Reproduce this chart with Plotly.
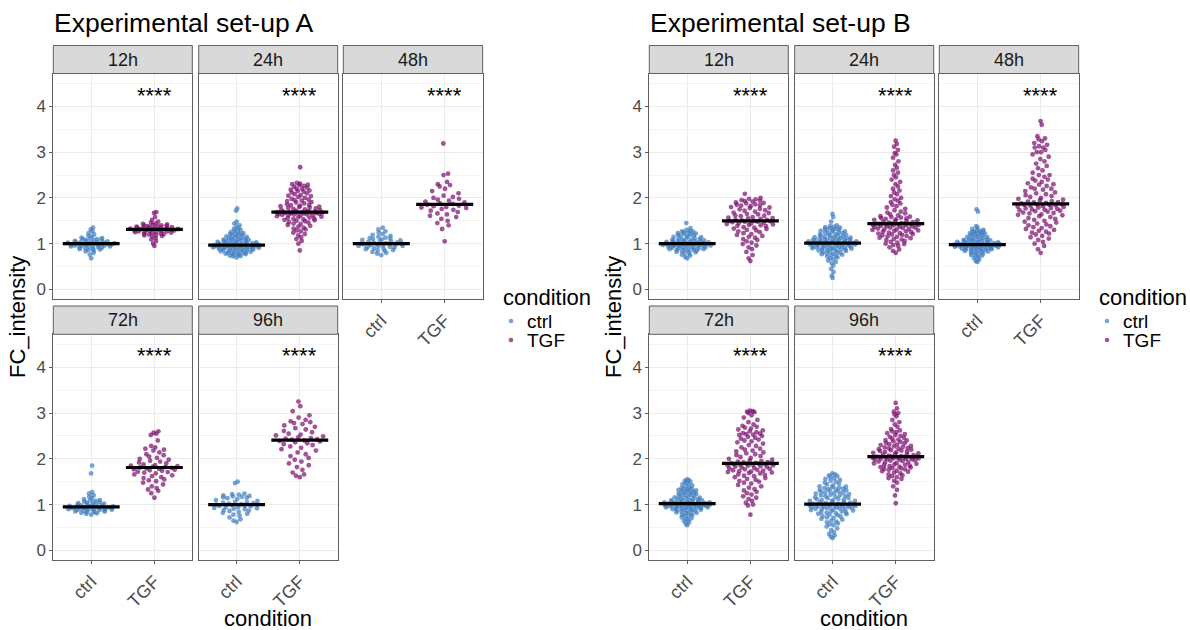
import numpy as np
import plotly.graph_objects as go

# ---------------------------------------------------------------------------
# FC_intensity per cell, by time point and condition
# ---------------------------------------------------------------------------
TIMEPOINTS = ["12h", "24h", "48h", "72h", "96h"]
CONDITIONS = ["ctrl", "TGF"]

# Experimental set-up A
A_12h_ctrl = [0.68, 0.76, 0.80, 0.83, 0.85, 0.86, 0.87, 0.88, 0.89, 0.90, 0.91, 0.92, 0.92, 0.93,
              0.94, 0.94, 0.95, 0.95, 0.96, 0.96, 0.97, 0.97, 0.98, 0.98, 0.99, 0.99, 0.99, 1.00,
              1.00, 1.01, 1.01, 1.02, 1.02, 1.03, 1.03, 1.04, 1.04, 1.05, 1.05, 1.06, 1.07, 1.08,
              1.09, 1.10, 1.10, 1.11, 1.12, 1.13, 1.15, 1.17, 1.20, 1.23, 1.27, 1.31, 1.35]
A_12h_TGF = [0.95, 1.00, 1.05, 1.09, 1.12, 1.15, 1.17, 1.18, 1.19, 1.20, 1.21, 1.22, 1.22, 1.23,
             1.24, 1.25, 1.25, 1.26, 1.27, 1.27, 1.28, 1.28, 1.29, 1.29, 1.30, 1.30, 1.30, 1.31,
             1.31, 1.32, 1.32, 1.33, 1.33, 1.34, 1.34, 1.35, 1.35, 1.36, 1.36, 1.37, 1.38, 1.38,
             1.39, 1.40, 1.40, 1.41, 1.42, 1.43, 1.44, 1.46, 1.48, 1.52, 1.58, 1.67, 1.69]
A_24h_ctrl = [0.70, 0.72, 0.73, 0.74, 0.75, 0.76, 0.77, 0.78, 0.78, 0.79, 0.80, 0.80, 0.81, 0.82,
              0.82, 0.83, 0.84, 0.84, 0.85, 0.86, 0.86, 0.87, 0.87, 0.88, 0.88, 0.89, 0.89, 0.90,
              0.90, 0.91, 0.91, 0.92, 0.92, 0.92, 0.93, 0.93, 0.93, 0.94, 0.94, 0.94, 0.95, 0.95,
              0.95, 0.96, 0.96, 0.96, 0.96, 0.97, 0.97, 0.97, 0.97, 0.98, 0.98, 0.99, 0.99, 1.00,
              1.00, 1.01, 1.01, 1.02, 1.02, 1.03, 1.03, 1.04, 1.05, 1.05, 1.06, 1.06, 1.07, 1.08,
              1.08, 1.09, 1.10, 1.10, 1.11, 1.12, 1.13, 1.14, 1.15, 1.16, 1.17, 1.18, 1.19, 1.20,
              1.21, 1.22, 1.23, 1.25, 1.26, 1.28, 1.30, 1.32, 1.34, 1.37, 1.40, 1.44, 1.48, 1.72,
              1.77]
A_24h_TGF = [0.85, 1.00, 1.06, 1.10, 1.14, 1.18, 1.21, 1.24, 1.27, 1.29, 1.31, 1.33, 1.35, 1.37,
             1.39, 1.41, 1.43, 1.44, 1.46, 1.47, 1.49, 1.50, 1.51, 1.52, 1.53, 1.54, 1.55, 1.56,
             1.57, 1.58, 1.59, 1.60, 1.61, 1.62, 1.62, 1.63, 1.64, 1.64, 1.65, 1.65, 1.66, 1.66,
             1.67, 1.67, 1.68, 1.68, 1.68, 1.69, 1.69, 1.69, 1.70, 1.70, 1.71, 1.72, 1.73, 1.74,
             1.75, 1.76, 1.77, 1.78, 1.79, 1.80, 1.81, 1.82, 1.83, 1.84, 1.85, 1.86, 1.88, 1.90,
             1.91, 1.93, 1.94, 1.95, 1.96, 1.98, 2.00, 2.02, 2.04, 2.05, 2.06, 2.08, 2.10, 2.12,
             2.14, 2.15, 2.16, 2.18, 2.20, 2.20, 2.22, 2.24, 2.26, 2.28, 2.29, 2.30, 2.31, 2.33,
             2.67]
A_48h_ctrl = [0.75, 0.78, 0.80, 0.82, 0.84, 0.85, 0.86, 0.88, 0.89, 0.90, 0.91, 0.92, 0.93, 0.94,
              0.95, 0.95, 0.96, 0.97, 0.97, 0.98, 0.99, 0.99, 1.00, 1.00, 1.01, 1.02, 1.03, 1.04,
              1.05, 1.06, 1.07, 1.08, 1.09, 1.10, 1.11, 1.12, 1.13, 1.15, 1.17, 1.19, 1.21, 1.24,
              1.27, 1.31, 1.35]
A_48h_TGF = [1.05, 1.32, 1.40, 1.45, 1.50, 1.54, 1.58, 1.61, 1.64, 1.66, 1.69, 1.72, 1.74, 1.76,
             1.78, 1.79, 1.80, 1.82, 1.83, 1.85, 1.87, 1.88, 1.90, 1.92, 1.94, 1.96, 1.98, 2.00,
             2.02, 2.05, 2.10, 2.15, 2.20, 2.25, 2.28, 2.30, 2.35, 2.50, 2.53, 3.19]
A_72h_ctrl = [0.78, 0.80, 0.81, 0.82, 0.83, 0.84, 0.85, 0.85, 0.86, 0.86, 0.87, 0.88, 0.88, 0.89,
              0.89, 0.90, 0.90, 0.91, 0.91, 0.92, 0.92, 0.93, 0.93, 0.93, 0.94, 0.94, 0.94, 0.95,
              0.95, 0.96, 0.96, 0.97, 0.98, 0.98, 0.99, 1.00, 1.00, 1.01, 1.02, 1.03, 1.04, 1.05,
              1.06, 1.07, 1.08, 1.09, 1.10, 1.12, 1.14, 1.17, 1.20, 1.24, 1.27, 1.68, 1.85]
A_72h_TGF = [1.15, 1.25, 1.30, 1.33, 1.36, 1.40, 1.44, 1.48, 1.51, 1.53, 1.55, 1.58, 1.60, 1.62,
             1.64, 1.66, 1.68, 1.70, 1.71, 1.72, 1.74, 1.75, 1.76, 1.77, 1.78, 1.79, 1.80, 1.81,
             1.82, 1.83, 1.84, 1.85, 1.86, 1.88, 1.90, 1.92, 1.94, 1.96, 1.98, 2.00, 2.02, 2.05,
             2.08, 2.10, 2.14, 2.18, 2.20, 2.22, 2.25, 2.28, 2.40, 2.52, 2.55, 2.57, 2.60]
A_96h_ctrl = [0.62, 0.65, 0.68, 0.72, 0.76, 0.78, 0.80, 0.82, 0.84, 0.86, 0.87, 0.88, 0.90, 0.91,
              0.92, 0.93, 0.94, 0.95, 0.96, 0.97, 0.98, 0.99, 1.00, 1.00, 1.01, 1.02, 1.03, 1.04,
              1.05, 1.06, 1.08, 1.10, 1.12, 1.14, 1.15, 1.16, 1.17, 1.18, 1.19, 1.20, 1.22, 1.23,
              1.24, 1.47, 1.50]
A_96h_TGF = [1.60, 1.63, 1.66, 1.70, 1.76, 1.82, 1.86, 1.90, 1.94, 1.98, 2.02, 2.06, 2.10, 2.14,
             2.18, 2.21, 2.24, 2.27, 2.30, 2.32, 2.34, 2.36, 2.38, 2.39, 2.40, 2.42, 2.43, 2.44,
             2.45, 2.47, 2.49, 2.51, 2.53, 2.55, 2.58, 2.61, 2.64, 2.67, 2.70, 2.73, 2.76, 2.78,
             2.80, 2.82, 2.85, 2.90, 2.95, 3.04, 3.15, 3.25]

# Experimental set-up B
B_12h_ctrl = [0.68, 0.71, 0.74, 0.76, 0.78, 0.80, 0.81, 0.82, 0.83, 0.84, 0.85, 0.86, 0.86, 0.87,
              0.88, 0.88, 0.89, 0.90, 0.90, 0.91, 0.91, 0.92, 0.92, 0.93, 0.93, 0.94, 0.94, 0.95,
              0.95, 0.96, 0.96, 0.97, 0.97, 0.97, 0.98, 0.98, 0.99, 0.99, 0.99, 1.00, 1.00, 1.01,
              1.01, 1.02, 1.02, 1.03, 1.03, 1.04, 1.04, 1.05, 1.05, 1.06, 1.06, 1.07, 1.07, 1.08,
              1.09, 1.09, 1.10, 1.11, 1.12, 1.13, 1.14, 1.15, 1.16, 1.17, 1.18, 1.19, 1.20, 1.21,
              1.22, 1.23, 1.24, 1.25, 1.26, 1.27, 1.28, 1.30, 1.34, 1.45]
B_12h_TGF = [0.62, 0.68, 0.75, 0.82, 0.88, 0.92, 0.96, 0.99, 1.02, 1.05, 1.08, 1.10, 1.13, 1.15,
             1.17, 1.19, 1.21, 1.23, 1.25, 1.27, 1.29, 1.30, 1.32, 1.33, 1.35, 1.36, 1.38, 1.39,
             1.40, 1.41, 1.42, 1.43, 1.44, 1.45, 1.46, 1.47, 1.48, 1.48, 1.49, 1.50, 1.50, 1.51,
             1.52, 1.53, 1.54, 1.55, 1.56, 1.57, 1.58, 1.60, 1.61, 1.62, 1.64, 1.65, 1.67, 1.68,
             1.70, 1.72, 1.73, 1.75, 1.76, 1.78, 1.79, 1.80, 1.82, 1.83, 1.84, 1.85, 1.86, 1.88,
             1.89, 1.90, 1.92, 1.93, 1.94, 1.95, 1.97, 1.98, 2.00, 2.09]
B_24h_ctrl = [0.25, 0.30, 0.38, 0.45, 0.52, 0.57, 0.60, 0.63, 0.66, 0.68, 0.70, 0.72, 0.73, 0.75,
              0.76, 0.77, 0.78, 0.79, 0.80, 0.81, 0.82, 0.83, 0.84, 0.85, 0.85, 0.86, 0.87, 0.87,
              0.88, 0.89, 0.89, 0.90, 0.90, 0.91, 0.92, 0.92, 0.93, 0.93, 0.94, 0.94, 0.95, 0.95,
              0.96, 0.96, 0.97, 0.97, 0.98, 0.98, 0.99, 0.99, 1.00, 1.00, 1.00, 1.01, 1.01, 1.01,
              1.02, 1.02, 1.03, 1.03, 1.04, 1.04, 1.05, 1.05, 1.06, 1.06, 1.07, 1.07, 1.08, 1.08,
              1.09, 1.09, 1.10, 1.10, 1.11, 1.11, 1.12, 1.13, 1.13, 1.14, 1.15, 1.15, 1.16, 1.17,
              1.18, 1.18, 1.19, 1.20, 1.21, 1.22, 1.23, 1.24, 1.25, 1.26, 1.27, 1.28, 1.29, 1.30,
              1.31, 1.32, 1.33, 1.34, 1.35, 1.36, 1.37, 1.38, 1.40, 1.48, 1.58, 1.65]
B_24h_TGF = [0.80, 0.84, 0.87, 0.92, 0.95, 0.97, 0.99, 1.00, 1.02, 1.04, 1.06, 1.08, 1.09, 1.10,
             1.12, 1.13, 1.15, 1.16, 1.17, 1.18, 1.19, 1.20, 1.21, 1.22, 1.23, 1.24, 1.25, 1.26,
             1.27, 1.28, 1.29, 1.30, 1.31, 1.31, 1.32, 1.33, 1.34, 1.35, 1.35, 1.36, 1.37, 1.38,
             1.38, 1.39, 1.40, 1.40, 1.41, 1.41, 1.42, 1.42, 1.43, 1.43, 1.44, 1.44, 1.44, 1.44,
             1.45, 1.46, 1.47, 1.48, 1.49, 1.50, 1.51, 1.52, 1.53, 1.54, 1.55, 1.56, 1.57, 1.58,
             1.59, 1.60, 1.62, 1.64, 1.66, 1.68, 1.70, 1.73, 1.76, 1.79, 1.82, 1.85, 1.88, 1.91,
             1.94, 1.97, 2.00, 2.04, 2.08, 2.12, 2.16, 2.20, 2.25, 2.30, 2.35, 2.40, 2.45, 2.50,
             2.55, 2.60, 2.66, 2.72, 2.80, 2.88, 2.95, 2.98, 3.05, 3.12, 3.18, 3.25]
B_48h_ctrl = [0.60, 0.62, 0.65, 0.68, 0.70, 0.72, 0.74, 0.75, 0.76, 0.78, 0.79, 0.80, 0.81, 0.82,
              0.83, 0.84, 0.85, 0.85, 0.86, 0.87, 0.87, 0.88, 0.88, 0.89, 0.89, 0.90, 0.90, 0.91,
              0.91, 0.92, 0.92, 0.93, 0.93, 0.94, 0.94, 0.94, 0.95, 0.95, 0.95, 0.96, 0.96, 0.96,
              0.97, 0.97, 0.97, 0.97, 0.98, 0.98, 0.98, 0.98, 0.98, 0.99, 0.99, 0.99, 1.00, 1.00,
              1.00, 1.01, 1.01, 1.02, 1.02, 1.03, 1.03, 1.04, 1.04, 1.05, 1.05, 1.06, 1.06, 1.07,
              1.07, 1.08, 1.09, 1.09, 1.10, 1.11, 1.12, 1.13, 1.14, 1.15, 1.16, 1.17, 1.18, 1.19,
              1.20, 1.21, 1.22, 1.23, 1.24, 1.25, 1.26, 1.27, 1.28, 1.29, 1.30, 1.32, 1.35, 1.38,
              1.70, 1.75]
B_48h_TGF = [0.80, 0.88, 0.95, 1.00, 1.04, 1.08, 1.11, 1.14, 1.17, 1.20, 1.22, 1.24, 1.26, 1.28,
             1.30, 1.32, 1.34, 1.36, 1.38, 1.40, 1.42, 1.44, 1.46, 1.48, 1.50, 1.52, 1.54, 1.56,
             1.58, 1.60, 1.62, 1.63, 1.64, 1.66, 1.67, 1.68, 1.70, 1.71, 1.72, 1.73, 1.74, 1.75,
             1.76, 1.77, 1.78, 1.79, 1.80, 1.81, 1.82, 1.83, 1.84, 1.85, 1.85, 1.86, 1.86, 1.88,
             1.89, 1.90, 1.91, 1.92, 1.93, 1.95, 1.96, 1.98, 2.00, 2.02, 2.04, 2.06, 2.08, 2.10,
             2.12, 2.15, 2.18, 2.20, 2.20, 2.23, 2.26, 2.29, 2.30, 2.32, 2.35, 2.38, 2.40, 2.42,
             2.46, 2.50, 2.50, 2.55, 2.60, 2.65, 2.70, 2.75, 2.80, 2.85, 2.90, 2.95, 3.00, 3.00,
             3.05, 3.10, 3.10, 3.13, 3.16, 3.20, 3.24, 3.28, 3.30, 3.35, 3.60, 3.68]
B_72h_ctrl = [0.55, 0.58, 0.61, 0.64, 0.66, 0.68, 0.70, 0.72, 0.74, 0.76, 0.77, 0.78, 0.80, 0.81,
              0.82, 0.83, 0.84, 0.85, 0.86, 0.87, 0.88, 0.88, 0.89, 0.90, 0.90, 0.91, 0.92, 0.92,
              0.93, 0.93, 0.94, 0.94, 0.95, 0.95, 0.96, 0.96, 0.97, 0.97, 0.97, 0.98, 0.98, 0.98,
              0.99, 0.99, 0.99, 1.00, 1.00, 1.00, 1.00, 1.01, 1.01, 1.01, 1.01, 1.02, 1.02, 1.02,
              1.02, 1.03, 1.03, 1.03, 1.04, 1.04, 1.05, 1.05, 1.06, 1.06, 1.07, 1.07, 1.08, 1.08,
              1.09, 1.10, 1.10, 1.11, 1.12, 1.13, 1.13, 1.14, 1.15, 1.16, 1.17, 1.18, 1.19, 1.20,
              1.21, 1.22, 1.23, 1.24, 1.25, 1.26, 1.27, 1.28, 1.29, 1.30, 1.31, 1.32, 1.33, 1.34,
              1.35, 1.36, 1.38, 1.40, 1.42, 1.44, 1.46, 1.48, 1.50, 1.52, 1.54, 1.55]
B_72h_TGF = [0.78, 0.98, 1.00, 1.04, 1.08, 1.12, 1.15, 1.18, 1.22, 1.25, 1.28, 1.31, 1.34, 1.37,
             1.40, 1.43, 1.46, 1.48, 1.50, 1.52, 1.54, 1.56, 1.58, 1.60, 1.62, 1.63, 1.65, 1.66,
             1.68, 1.69, 1.70, 1.71, 1.72, 1.73, 1.74, 1.75, 1.76, 1.77, 1.78, 1.79, 1.80, 1.81,
             1.82, 1.83, 1.84, 1.85, 1.86, 1.86, 1.87, 1.87, 1.88, 1.88, 1.89, 1.89, 1.90, 1.90,
             1.91, 1.92, 1.93, 1.94, 1.95, 1.96, 1.98, 2.00, 2.02, 2.04, 2.06, 2.08, 2.10, 2.12,
             2.14, 2.16, 2.18, 2.20, 2.22, 2.25, 2.28, 2.30, 2.33, 2.36, 2.38, 2.40, 2.42, 2.44,
             2.46, 2.48, 2.50, 2.52, 2.53, 2.54, 2.55, 2.56, 2.58, 2.60, 2.62, 2.64, 2.66, 2.68,
             2.70, 2.72, 2.75, 2.80, 2.85, 2.90, 2.95, 3.00, 3.02, 3.03, 3.04, 3.05]
B_96h_ctrl = [0.27, 0.30, 0.33, 0.36, 0.40, 0.44, 0.48, 0.52, 0.55, 0.57, 0.59, 0.61, 0.63, 0.65,
              0.67, 0.69, 0.71, 0.72, 0.74, 0.75, 0.77, 0.78, 0.79, 0.80, 0.81, 0.82, 0.83, 0.84,
              0.85, 0.86, 0.87, 0.88, 0.89, 0.90, 0.90, 0.91, 0.92, 0.92, 0.93, 0.94, 0.94, 0.95,
              0.95, 0.96, 0.96, 0.97, 0.97, 0.98, 0.98, 0.99, 0.99, 1.00, 1.00, 1.00, 1.01, 1.01,
              1.02, 1.03, 1.04, 1.05, 1.06, 1.07, 1.08, 1.08, 1.09, 1.10, 1.11, 1.12, 1.13, 1.14,
              1.15, 1.16, 1.17, 1.18, 1.19, 1.20, 1.21, 1.22, 1.23, 1.24, 1.25, 1.26, 1.27, 1.28,
              1.29, 1.30, 1.31, 1.32, 1.33, 1.34, 1.35, 1.36, 1.37, 1.38, 1.39, 1.40, 1.42, 1.44,
              1.46, 1.48, 1.50, 1.52, 1.54, 1.56, 1.58, 1.60, 1.62, 1.64, 1.66, 1.68]
B_96h_TGF = [1.03, 1.20, 1.32, 1.40, 1.48, 1.52, 1.56, 1.58, 1.60, 1.62, 1.64, 1.66, 1.68, 1.70,
             1.72, 1.73, 1.74, 1.76, 1.77, 1.78, 1.79, 1.80, 1.81, 1.82, 1.83, 1.84, 1.85, 1.86,
             1.87, 1.88, 1.89, 1.90, 1.91, 1.92, 1.93, 1.94, 1.95, 1.96, 1.97, 1.98, 1.98, 1.99,
             1.99, 2.00, 2.00, 2.01, 2.01, 2.02, 2.02, 2.03, 2.03, 2.04, 2.04, 2.05, 2.05, 2.05,
             2.06, 2.07, 2.08, 2.09, 2.10, 2.11, 2.12, 2.13, 2.14, 2.15, 2.16, 2.17, 2.18, 2.19,
             2.20, 2.21, 2.22, 2.23, 2.24, 2.25, 2.26, 2.27, 2.28, 2.30, 2.31, 2.32, 2.34, 2.35,
             2.37, 2.38, 2.40, 2.41, 2.42, 2.44, 2.46, 2.48, 2.50, 2.52, 2.54, 2.56, 2.58, 2.60,
             2.62, 2.65, 2.70, 2.75, 2.80, 2.85, 2.93, 2.97, 3.00, 3.03, 3.10, 3.22]

SIGNIF_LABEL = "****"
SETUP_TITLES = ["Experimental set-up A", "Experimental set-up B"]
SETUP_DATA = [
    [(A_12h_ctrl, A_12h_TGF), (A_24h_ctrl, A_24h_TGF), (A_48h_ctrl, A_48h_TGF),
     (A_72h_ctrl, A_72h_TGF), (A_96h_ctrl, A_96h_TGF)],
    [(B_12h_ctrl, B_12h_TGF), (B_24h_ctrl, B_24h_TGF), (B_48h_ctrl, B_48h_TGF),
     (B_72h_ctrl, B_72h_TGF), (B_96h_ctrl, B_96h_TGF)],
]

# ---------------------------------------------------------------------------
# Styling
# ---------------------------------------------------------------------------
W, H = 1190, 630
FONT = "Liberation Sans, Arial, sans-serif"
COLORS = {"ctrl": "#3F7EC2", "TGF": "#7A0B6E"}
POINT_ALPHA = 0.7
BORDER = "#5F5F5F"
GRID_MAJOR = "#EBEBEB"
GRID_MINOR = "#F5F5F5"
STRIP_FILL = "#D9D9D9"
Y_RANGE = [-0.21, 4.72]
X_RANGE = [0.4, 2.6]

# pixel layout of the facet grid (left edge offset per set-up)
COL_SPANS = [(53.3, 192.3), (198.7, 337.7), (343.3, 482.7)]
SETUP_SHIFT = [0.0, 596.0]
ROW_PLOT = [(73.5, 299.0), (334.3, 560.0)]
ROW_STRIP = [(45.5, 73.5), (306.0, 334.3)]
PANEL_CELLS = [(0, 0), (0, 1), (0, 2), (1, 0), (1, 1)]
# legend key block (pixels, before set-up shift)
LEGEND_LEFT, LEGEND_TITLE_Y, LEGEND_KEY_X, LEGEND_TEXT_X = 501, 297, 511, 525
LEGEND_ROWS_Y = [321, 340]


def fx(px):
    return px / W


def fy(py):
    return 1 - py / H


def van_der_corput(n, base=2):
    seq = []
    for i in range(1, n + 1):
        v, denom, k = 0.0, 1.0, i
        while k > 0:
            k, rem = divmod(k, base)
            denom *= base
            v += rem / denom
        seq.append(v)
    return np.array(seq)


def quasirandom_offsets(values, width=0.4):
    """Violin-shaped horizontal spread (quasirandom method)."""
    y = np.asarray(values, dtype=float)
    n = len(y)
    sd = y.std(ddof=1)
    iqr = np.subtract(*np.percentile(y, [75, 25]))
    lo = min(sd, iqr / 1.34) if iqr > 0 else sd
    bw = 0.9 * lo * n ** (-0.2)
    dens = np.exp(-0.5 * ((y[:, None] - y[None, :]) / bw) ** 2).sum(axis=1)
    grid = np.linspace(y.min() - 3 * bw, y.max() + 3 * bw, 512)
    gdens = np.exp(-0.5 * ((grid[:, None] - y[None, :]) / bw) ** 2).sum(axis=1)
    dens = dens / gdens.max()
    ranks = np.argsort(np.argsort(y, kind="stable"), kind="stable")
    vdc = van_der_corput(n)[ranks]
    return (vdc - 0.5) * 2 * dens * width


fig = go.Figure()
layout = dict(
    width=W, height=H,
    margin=dict(l=0, r=0, t=0, b=0),
    paper_bgcolor="white", plot_bgcolor="white",
    font=dict(family=FONT, color="#000000"),
    showlegend=False,
)
shapes, annotations = [], []

panel_id = 0
for s, (title, panels) in enumerate(zip(SETUP_TITLES, SETUP_DATA)):
    shift = SETUP_SHIFT[s]
    for p, (tp, groups) in enumerate(zip(TIMEPOINTS, panels)):
        panel_id += 1
        r, c = PANEL_CELLS[p]
        x0, x1 = COL_SPANS[c][0] + shift, COL_SPANS[c][1] + shift
        y0, y1 = ROW_PLOT[r]
        sx0, sx1 = ROW_STRIP[r]
        xa = "x" if panel_id == 1 else f"x{panel_id}"
        ya = "y" if panel_id == 1 else f"y{panel_id}"
        bottom_of_column = (r == 1) or (c == 2)

        # cells, spread horizontally within each condition
        for ci, (cond, vals) in enumerate(zip(CONDITIONS, groups)):
            offs = quasirandom_offsets(vals)
            fig.add_trace(go.Scatter(
                x=(ci + 1) + offs, y=vals, mode="markers", name=cond,
                marker=dict(color=COLORS[cond], size=4.8, opacity=POINT_ALPHA, line=dict(width=0)),
                xaxis=xa, yaxis=ya))

        # median bars
        for ci, (cond, vals) in enumerate(zip(CONDITIONS, groups)):
            med = float(np.median(vals))
            fig.add_trace(go.Scatter(
                x=[ci + 1 - 0.45, ci + 1 + 0.45], y=[med, med], mode="lines",
                line=dict(color="black", width=3.2), hoverinfo="skip",
                xaxis=xa, yaxis=ya))

        axis_common = dict(showline=True, mirror=True, linecolor=BORDER, linewidth=1,
                           zeroline=False, fixedrange=True)
        layout[f"xaxis{panel_id}"] = dict(
            domain=[fx(x0), fx(x1)], anchor=ya,
            range=X_RANGE, tickmode="array", tickvals=[1, 2], ticktext=CONDITIONS,
            showgrid=True, gridcolor=GRID_MAJOR, gridwidth=1.1,
            showticklabels=bottom_of_column, ticks="outside" if bottom_of_column else "",
            ticklen=3, tickcolor=BORDER, tickangle=-45,
            tickfont=dict(size=18, color="#4D4D4D", family=FONT), **axis_common)
        layout[f"yaxis{panel_id}"] = dict(
            domain=[fy(y1), fy(y0)], anchor=xa,
            range=Y_RANGE, tickmode="linear", tick0=0, dtick=1,
            showgrid=True, gridcolor=GRID_MAJOR, gridwidth=1.1,
            minor=dict(dtick=0.5, tick0=0, showgrid=True, gridcolor=GRID_MINOR, gridwidth=0.6),
            showticklabels=(c == 0), ticks="outside" if c == 0 else "",
            ticklen=3, tickcolor=BORDER,
            tickfont=dict(size=17, color="#4D4D4D", family=FONT), **axis_common)

        # facet strip
        shapes.append(dict(type="rect", xref="paper", yref="paper",
                           x0=fx(x0), x1=fx(x1), y0=fy(sx1), y1=fy(sx0),
                           fillcolor=STRIP_FILL, line=dict(color=BORDER, width=1), layer="above"))
        annotations.append(dict(text=tp, xref="paper", yref="paper",
                                x=fx((x0 + x1) / 2), y=fy((sx0 + sx1) / 2),
                                showarrow=False, xanchor="center", yanchor="middle",
                                font=dict(size=18, color="#1A1A1A", family=FONT)))
        # significance label over the TGF group
        annotations.append(dict(text=SIGNIF_LABEL, xref=xa, yref=ya, x=2, y=4.25,
                                showarrow=False, xanchor="center", yanchor="middle",
                                font=dict(size=22, color="black", family=FONT)))

    # set-up title, shared axis titles
    annotations.append(dict(text=title, xref="paper", yref="paper",
                            x=fx(52 + shift), y=fy(23), xanchor="left", yanchor="middle",
                            showarrow=False, font=dict(size=26.5, color="black", family=FONT)))
    annotations.append(dict(text="FC_intensity", xref="paper", yref="paper",
                            x=fx(17 + shift), y=fy(317), xanchor="center", yanchor="middle",
                            textangle=-90, showarrow=False,
                            font=dict(size=22, color="black", family=FONT)))
    annotations.append(dict(text="condition", xref="paper", yref="paper",
                            x=fx(268 + shift), y=fy(618), xanchor="center", yanchor="middle",
                            showarrow=False, font=dict(size=22, color="black", family=FONT)))

    # colour key for the condition
    annotations.append(dict(text="condition", xref="paper", yref="paper",
                            x=fx(LEGEND_LEFT + shift), y=fy(LEGEND_TITLE_Y),
                            xanchor="left", yanchor="middle", showarrow=False,
                            font=dict(size=22, color="black", family=FONT)))
    for cond, ky in zip(CONDITIONS, LEGEND_ROWS_Y):
        kx = LEGEND_KEY_X + shift
        shapes.append(dict(type="circle", xref="paper", yref="paper",
                           x0=fx(kx - 2.3), x1=fx(kx + 2.3), y0=fy(ky + 2.3), y1=fy(ky - 2.3),
                           fillcolor=COLORS[cond], opacity=POINT_ALPHA, line=dict(width=0)))
        annotations.append(dict(text=cond, xref="paper", yref="paper",
                                x=fx(LEGEND_TEXT_X + shift), y=fy(ky),
                                xanchor="left", yanchor="middle", showarrow=False,
                                font=dict(size=19, color="black", family=FONT)))

layout["shapes"] = shapes
layout["annotations"] = annotations
fig.update_layout(**layout)
fig.write_html("out.html")
